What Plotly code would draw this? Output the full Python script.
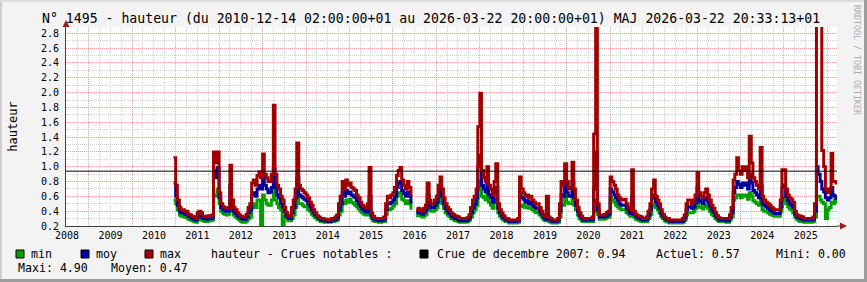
import pandas as pd
import plotly.graph_objects as go

# ---------------- data (half-monthly) ----------------
start_date = "2010-12-14 02:00"
end_date = "2026-03-22 20:00"
half_months = list(pd.date_range("2011-01-01", "2026-03-15", freq="SMS"))

max_vals = [1.12,
    0.75,0.55, 0.45,0.42, 0.42,0.40, 0.40,0.36, 0.35,0.33, 0.32,0.30, 0.38,0.40, 0.38,0.33, 0.33,0.32, 0.34,0.33, 0.35,1.20, 1.05,1.20,  # 2011
    0.65,0.50, 0.46,0.44, 0.44,0.45, 1.02,0.55, 0.45,0.42, 0.38,0.35, 0.33,0.32, 0.32,0.36, 0.45,0.50, 0.78,0.82, 0.75,0.88, 0.93,0.85,  # 2012
    1.17,0.90, 0.85,0.80, 0.80,0.90, 1.83,0.90, 0.75,0.70, 0.60,0.55, 0.45,0.38, 0.34,0.33, 0.45,0.55, 0.70,1.32, 0.75,0.70, 0.68,0.65,  # 2013
    0.62,0.58, 0.52,0.48, 0.42,0.38, 0.34,0.32, 0.30,0.30, 0.29,0.29, 0.28,0.28, 0.30,0.30, 0.32,0.35, 0.50,0.60, 0.80,0.70, 0.82,0.75,  # 2014
    0.78,0.72, 0.70,0.68, 0.62,0.58, 0.52,0.48, 0.46,0.44, 0.50,0.99, 0.38,0.33, 0.30,0.30, 0.30,0.30, 0.30,0.32, 0.50,0.60, 0.58,0.62,  # 2015
    0.65,0.72, 0.88,0.95, 0.99,0.82, 0.75,0.70, 0.80,0.72, 0.60,None, None,0.42, 0.44,0.42, 0.40,0.44, 0.48,0.78, 0.55,0.50, 0.50,0.55,  # 2016
    0.60,0.75, 0.86,0.70, 0.58,0.50, 0.45,0.42, 0.38,0.36, 0.34,0.33, 0.32,0.30, 0.30,0.30, 0.30,0.31, 0.35,0.45, 0.55,0.60, 0.70,1.54,  # 2017
    1.99,0.95, 0.85,0.80, 1.00,0.75, 0.70,0.62, 0.80,1.04, 0.50,0.42, 0.38,0.34, 0.30,0.30, 0.28,0.28, 0.28,0.28, 0.28,0.30, 0.86,0.70,  # 2018
    0.65,0.60, 0.62,0.58, 0.60,0.55, 0.52,0.50, 0.50,0.45, 0.40,0.35, 0.32,0.60, 0.32,0.30, 0.28,0.28, 0.28,0.30, 0.50,0.80, 0.75,1.04,  # 2019
    0.80,0.70, 0.72,1.06, 0.70,0.55, 0.45,0.38, 0.33,0.30, 0.30,0.30, 0.30,0.30, 0.32,1.44, 3.80,0.50, 0.35,0.35, 0.35,0.36, 0.38,0.40,  # 2020
    0.86,0.80, 0.75,0.70, 0.62,0.58, 0.55,0.55, 0.56,0.50, 0.45,0.42, 0.96,0.40, 0.36,0.34, 0.33,0.32, 0.30,0.30, 0.32,0.40, 0.50,0.70,  # 2021
    0.82,0.60, 0.55,0.50, 0.42,0.36, 0.32,0.30, 0.30,0.28, 0.28,0.28, 0.28,0.28, 0.28,0.28, 0.30,0.35, 0.50,0.55, 0.55,0.50, 0.55,0.62,  # 2022
    0.92,0.65, 0.60,0.58, 0.65,0.70, 0.62,0.55, 0.48,0.44, 0.38,0.34, 0.31,0.30, 0.30,0.30, 0.30,0.30, 0.35,0.45, 0.82,0.90, 1.12,0.95,  # 2023
    0.90,1.00, 0.95,1.00, 0.85,1.41, 1.05,0.85, 0.80,0.75, 0.70,1.26, 0.60,0.55, 0.52,0.50, 0.48,0.45, 0.43,0.42, 0.42,0.42, 0.55,0.96,  # 2024
    0.96,0.70, 0.62,0.58, 0.56,0.52, 0.40,0.35, 0.34,0.33, 0.32,0.30, 0.30,0.30, 0.30,0.30, 0.32,0.50, 4.90,3.50, 3.00,1.22, 1.00,0.70,  # 2025
    0.65,0.70, 1.18,0.80, 0.80,0.78]                                                                                                      # 2026

moy_vals = [0.78,
    0.60,0.48, 0.40,0.38, 0.38,0.36, 0.36,0.33, 0.32,0.30, 0.29,0.28, 0.32,0.34, 0.32,0.30, 0.30,0.29, 0.30,0.30, 0.31,0.95, 0.85,0.99,
    0.58,0.45, 0.42,0.40, 0.40,0.41, 0.75,0.48, 0.40,0.37, 0.34,0.32, 0.30,0.29, 0.29,0.32, 0.38,0.42, 0.62,0.65, 0.60,0.70, 0.75,0.70,
    0.88,0.75, 0.70,0.65, 0.66,0.72, 0.98,0.72, 0.62,0.58, 0.50,0.46, 0.40,0.34, 0.31,0.30, 0.38,0.45, 0.58,0.85, 0.62,0.60, 0.58,0.56,
    0.54,0.50, 0.46,0.42, 0.38,0.35, 0.32,0.30, 0.28,0.28, 0.27,0.27, 0.26,0.26, 0.28,0.28, 0.29,0.31, 0.42,0.50, 0.66,0.60, 0.68,0.64,
    0.66,0.62, 0.60,0.58, 0.54,0.50, 0.46,0.43, 0.41,0.39, 0.42,0.60, 0.34,0.30, 0.28,0.28, 0.27,0.27, 0.28,0.29, 0.42,0.50, 0.50,0.52,
    0.55,0.60, 0.72,0.78, 0.80,0.68, 0.64,0.60, 0.66,0.60, 0.50,None, None,0.38, 0.39,0.38, 0.36,0.39, 0.42,0.62, 0.48,0.45, 0.45,0.48,
    0.52,0.62, 0.72,0.60, 0.50,0.44, 0.40,0.37, 0.34,0.32, 0.30,0.30, 0.28,0.27, 0.27,0.27, 0.27,0.28, 0.31,0.38, 0.45,0.50, 0.58,1.00,
    1.15,0.75, 0.70,0.66, 0.80,0.62, 0.58,0.52, 0.65,0.72, 0.44,0.38, 0.34,0.31, 0.28,0.28, 0.26,0.26, 0.26,0.26, 0.26,0.28, 0.65,0.58,
    0.56,0.52, 0.54,0.50, 0.52,0.48, 0.46,0.44, 0.44,0.40, 0.36,0.32, 0.29,0.42, 0.29,0.28, 0.26,0.26, 0.26,0.28, 0.40,0.62, 0.60,0.80,
    0.65,0.60, 0.60,0.80, 0.58,0.48, 0.40,0.34, 0.30,0.28, 0.28,0.28, 0.28,0.28, 0.29,0.70, 1.20,0.42, 0.32,0.32, 0.32,0.33, 0.34,0.36,
    0.70,0.66, 0.62,0.58, 0.54,0.50, 0.48,0.48, 0.48,0.44, 0.40,0.37, 0.60,0.36, 0.33,0.31, 0.30,0.29, 0.28,0.28, 0.29,0.34, 0.42,0.58,
    0.62,0.52, 0.48,0.44, 0.37,0.33, 0.30,0.28, 0.28,0.26, 0.26,0.26, 0.26,0.26, 0.26,0.26, 0.27,0.31, 0.42,0.46, 0.46,0.44, 0.46,0.52,
    0.72,0.55, 0.52,0.50, 0.55,0.58, 0.52,0.47, 0.42,0.39, 0.34,0.31, 0.28,0.28, 0.28,0.28, 0.27,0.27, 0.31,0.38, 0.65,0.72, 0.80,0.76,
    0.72,0.78, 0.75,0.78, 0.70,0.90, 0.78,0.68, 0.65,0.62, 0.58,0.75, 0.50,0.48, 0.46,0.44, 0.42,0.40, 0.38,0.37, 0.37,0.37, 0.46,0.72,
    0.75,0.60, 0.54,0.50, 0.48,0.45, 0.36,0.32, 0.31,0.30, 0.29,0.28, 0.28,0.28, 0.28,0.28, 0.29,0.40, 1.00,0.90, 0.80,0.70, 0.66,0.58,
    0.55,0.58, 0.72,0.62, 0.60,0.57]

min_vals = [0.55,
    0.50,0.42, 0.35,0.33, 0.33,0.32, 0.31,0.29, 0.28,0.27, 0.26,0.25, 0.28,0.29, 0.28,0.27, 0.26,0.26, 0.27,0.27, 0.28,0.62, 0.60,0.70,
    0.50,0.40, 0.37,0.36, 0.35,0.36, 0.55,0.40, 0.35,0.32, 0.30,0.28, 0.26,0.25, 0.25,0.27, 0.30,0.32, 0.45,0.50, 0.45,0.55, 0.55,0.22,
    0.62,0.55, 0.50,0.48, 0.48,0.55, 0.68,0.55, 0.50,0.45, 0.42,0.20, 0.33,0.30, 0.27,0.27, 0.30,0.35, 0.45,0.60, 0.50,0.50, 0.48,0.46,
    0.46,0.42, 0.40,0.36, 0.34,0.31, 0.29,0.28, 0.26,0.26, 0.25,0.25, 0.25,0.25, 0.26,0.26, 0.27,0.28, 0.35,0.40, 0.52,0.50, 0.55,0.52,
    0.56,0.52, 0.50,0.48, 0.46,0.43, 0.40,0.38, 0.36,0.35, 0.36,0.45, 0.30,0.27, 0.26,0.26, 0.25,0.25, 0.26,0.26, 0.36,0.42, 0.42,0.44,
    0.47,0.50, 0.60,0.65, 0.65,0.56, 0.54,0.50, 0.54,0.50, 0.42,None, None,0.34, 0.35,0.34, 0.32,0.34, 0.36,0.50, 0.42,0.40, 0.40,0.42,
    0.45,0.52, 0.60,0.50, 0.44,0.38, 0.35,0.33, 0.30,0.29, 0.27,0.27, 0.26,0.25, 0.25,0.25, 0.25,0.26, 0.28,0.32, 0.38,0.42, 0.48,0.70,
    0.80,0.60, 0.58,0.55, 0.65,0.52, 0.48,0.44, 0.52,0.56, 0.38,0.33, 0.30,0.28, 0.26,0.26, 0.24,0.24, 0.24,0.24, 0.24,0.25, 0.48,0.46,
    0.48,0.45, 0.46,0.44, 0.44,0.42, 0.40,0.38, 0.38,0.35, 0.32,0.29, 0.27,0.30, 0.26,0.25, 0.24,0.24, 0.24,0.25, 0.32,0.48, 0.48,0.60,
    0.52,0.50, 0.50,0.62, 0.48,0.42, 0.35,0.30, 0.27,0.26, 0.26,0.26, 0.26,0.26, 0.26,0.40, 0.55,0.36, 0.29,0.29, 0.29,0.30, 0.31,0.32,
    0.58,0.55, 0.52,0.48, 0.46,0.44, 0.42,0.42, 0.42,0.38, 0.36,0.33, 0.42,0.32, 0.29,0.28, 0.27,0.26, 0.26,0.26, 0.26,0.30, 0.36,0.48,
    0.48,0.45, 0.42,0.38, 0.33,0.30, 0.27,0.26, 0.25,0.24, 0.24,0.24, 0.24,0.24, 0.24,0.24, 0.25,0.28, 0.35,0.38, 0.38,0.38, 0.40,0.44,
    0.55,0.46, 0.45,0.43, 0.46,0.48, 0.44,0.40, 0.36,0.34, 0.30,0.28, 0.26,0.26, 0.26,0.26, 0.25,0.25, 0.28,0.32, 0.55,0.58, 0.62,0.62,
    0.58,0.62, 0.60,0.62, 0.56,0.65, 0.60,0.54, 0.52,0.50, 0.48,0.55, 0.42,0.40, 0.40,0.38, 0.36,0.35, 0.34,0.33, 0.33,0.33, 0.40,0.55,
    0.58,0.50, 0.46,0.43, 0.42,0.38, 0.32,0.29, 0.27,0.26, 0.26,0.25, 0.25,0.25, 0.25,0.25, 0.26,0.32, 0.60,0.60, 0.55,0.52, 0.50,0.30,
    0.42,0.45, 0.52,0.50, 0.55,0.52]

crue_value = 0.94
stats = {"Actuel": "0.57", "Mini": "0.00", "Maxi": "4.90", "Moyen": "0.47"}
title_text = ("N° 1495 - hauteur (du 2010-12-14 02:00:00+01 au 2026-03-22 "
              "20:00:00+01) MAJ 2026-03-22 20:33:13+01")

# ---------------- figure ----------------
W, H = 867, 282
L, R, T, B = 66, 30, 27, 56
PW, PH = W - L - R, H - T - B
FONT = "DejaVu Sans Mono"

def px(x):
    return (x - L) / PW

def py(y):
    return (H - B - y) / PH

x_dates = [pd.Timestamp(start_date)] + half_months + [pd.Timestamp(end_date)]
for arr in (max_vals, moy_vals, min_vals):
    assert len(arr) + 1 == len(x_dates), (len(arr), len(x_dates))

fig = go.Figure()
series = [("min", min_vals, "#00a000"), ("moy", moy_vals, "#0000a0"), ("max", max_vals, "#a00000")]
for name, vals, col in series:
    fig.add_trace(go.Scatter(
        x=x_dates, y=list(vals) + [vals[-1]], mode="lines", name=name,
        line=dict(color=col, width=3, shape="hv"), connectgaps=False,
        showlegend=False, hoverinfo="skip"))

fig.update_layout(
    width=W, height=H, margin=dict(l=L, r=R, t=T, b=B, pad=0),
    paper_bgcolor="#f3f3f3", plot_bgcolor="#ffffff",
    font=dict(family=FONT, size=10, color="#000000"),
    showlegend=False,
)
fig.update_xaxes(
    type="date", range=["2008-06-23", "2026-03-22 20:00"],
    tick0="2009-01-01", dtick="M12", tickformat="%Y", ticklabelmode="period",
    showgrid=True, gridcolor="#f2a0a0", griddash="1px,1px", gridwidth=1,
    minor=dict(dtick="M3", showgrid=True, gridcolor="#d0d0d0", griddash="1px,1px", gridwidth=1),
    showline=True, linecolor="#404040", linewidth=1, ticks="", zeroline=False,
    tickfont=dict(family=FONT, size=10),
)
fig.update_yaxes(
    range=[0.2, 0.2 + PH / 74.1], tick0=0.2, dtick=0.2, tickformat=".1f",
    showgrid=True, gridcolor="#f2a0a0", griddash="1px,1px", gridwidth=1,
    minor=dict(dtick=0.1, showgrid=True, gridcolor="#d0d0d0", griddash="1px,1px", gridwidth=1),
    showline=True, linecolor="#404040", linewidth=1, ticks="", zeroline=False,
    tickfont=dict(family=FONT, size=10), ticklabelstandoff=4,
    title=dict(text="hauteur", font=dict(family=FONT, size=12), standoff=20),
)

shapes = []
shapes.append(dict(type="line", xref="paper", yref="y", x0=0, x1=1, y0=crue_value, y1=crue_value,
                   line=dict(color="#000000", width=1), layer="above"))
shapes.append(dict(type="line", xref="paper", yref="paper", x0=1, x1=px(843), y0=0, y1=0,
                   line=dict(color="#404040", width=1)))
shapes.append(dict(type="line", xref="paper", yref="paper", x0=0, x1=0, y0=1, y1=py(23),
                   line=dict(color="#404040", width=1)))
shapes.append(dict(type="path", xref="paper", yref="paper",
                   path=f"M {px(847)} {py(226)} L {px(840)} {py(222.5)} L {px(840)} {py(229.5)} Z",
                   fillcolor="#a01818", line=dict(width=0)))
shapes.append(dict(type="path", xref="paper", yref="paper",
                   path=f"M {px(66)} {py(20)} L {px(62.5)} {py(27)} L {px(69.5)} {py(27)} Z",
                   fillcolor="#a01818", line=dict(width=0)))
shapes.append(dict(type="rect", xref="paper", yref="paper", x0=px(0), x1=px(2), y0=py(H), y1=py(0),
                   fillcolor="#cfcfcf", line=dict(width=0), layer="below"))
shapes.append(dict(type="rect", xref="paper", yref="paper", x0=px(0), x1=px(W), y0=py(2), y1=py(0),
                   fillcolor="#dcdcdc", line=dict(width=0), layer="below"))
shapes.append(dict(type="rect", xref="paper", yref="paper", x0=px(W - 3), x1=px(W), y0=py(H), y1=py(0),
                   fillcolor="#9c9c9c", line=dict(width=0), layer="below"))
shapes.append(dict(type="rect", xref="paper", yref="paper", x0=px(0), x1=px(W), y0=py(H), y1=py(H - 3),
                   fillcolor="#9c9c9c", line=dict(width=0), layer="below"))

annotations = []
def text(x, y, s, size=11.6, color="#000000", xanchor="left", angle=0):
    annotations.append(dict(xref="paper", yref="paper", x=px(x), y=py(y), text=s, showarrow=False,
                            xanchor=xanchor, yanchor="middle", textangle=angle,
                            font=dict(family=FONT, size=size, color=color)))

text(40, 18.5, title_text, size=13.2)
text(857, 60, "RRDTOOL / TOBI OETIKER", size=8.3, color="#aaaaaa", xanchor="center", angle=90)

legend_items = [(16, "min", "#00a000"), (81, "moy", "#0000a0"), (145, "max", "#a00000")]
for x0, lab, col in legend_items:
    shapes.append(dict(type="rect", xref="paper", yref="paper", x0=px(x0), x1=px(x0 + 8),
                       y0=py(258), y1=py(250), fillcolor=col, line=dict(color="#000000", width=1)))
    text(x0 + 13, 254, lab)
text(209, 254, "hauteur - Crues notables :")
shapes.append(dict(type="rect", xref="paper", yref="paper", x0=px(420), x1=px(428),
                   y0=py(258), y1=py(250), fillcolor="#000000", line=dict(color="#000000", width=1)))
text(435, 254, f"Crue de decembre 2007: {crue_value:.2f}")
text(654, 254, f"Actuel: {stats['Actuel']}")
text(774, 254, f"Mini: {stats['Mini']}")
text(16, 268, f"Maxi: {stats['Maxi']}")
text(109, 268, f"Moyen: {stats['Moyen']}")

fig.update_layout(shapes=shapes, annotations=annotations)
fig.write_html("out.html")
